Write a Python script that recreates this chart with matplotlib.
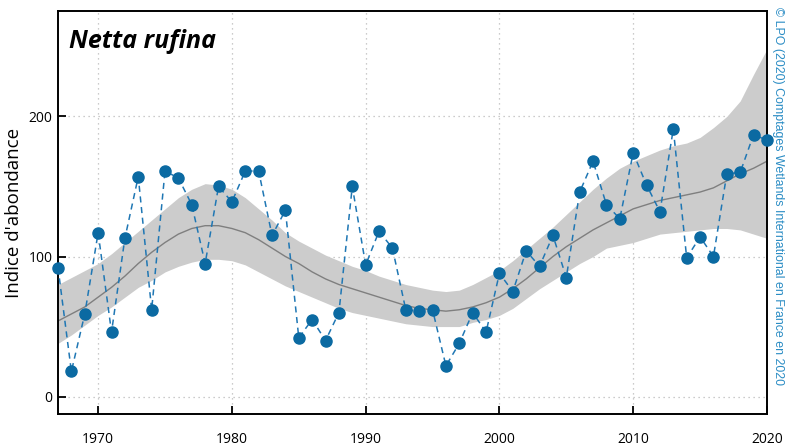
"""
Abundance index of Netta rufina (Wetlands International counts, France).
"""
import matplotlib
matplotlib.use("Agg")
import matplotlib.pyplot as plt

plt.rcParams["font.family"] = ["Open Sans", "DejaVu Sans"]

years = list(range(1967, 2021))

index_obs = [92, 18, 59, 117, 46, 113, 157, 62, 161, 156,
             137, 95, 150, 139, 161, 161, 115, 133, 42, 55,
             40, 60, 150, 94, 118, 106, 62, 61, 62, 22,
             38, 60, 46, 88, 75, 104, 93, 115, 85, 146,
             168, 137, 127, 174, 151, 132, 191, 99, 114, 100,
             159, 160, 187, 183]

trend = [54, 59, 64, 71, 78, 86, 95, 103, 110, 116,
         120, 122, 122, 120, 117, 112, 106, 100, 95, 89,
         84, 80, 77, 74, 71, 68, 65, 63, 62, 61,
         62, 64, 67, 71, 77, 84, 92, 100, 107, 113,
         119, 124, 129, 134, 137, 140, 142, 144, 146, 149,
         154, 159, 163, 168]

upper = [80, 85, 90, 95, 102, 110, 118, 126, 134, 142,
         148, 152, 151, 148, 142, 134, 126, 117, 111, 106,
         101, 97, 93, 90, 86, 83, 80, 78, 76, 75,
         76, 80, 85, 90, 97, 105, 113, 121, 130, 139,
         148, 156, 163, 168, 172, 176, 179, 181, 185, 192,
         200, 211, 230, 248]

lower = [38, 44, 51, 58, 64, 71, 78, 83, 89, 93,
         96, 98, 98, 97, 94, 89, 84, 79, 75, 71,
         67, 63, 60, 58, 56, 54, 52, 51, 50, 50,
         50, 53, 55, 58, 63, 70, 77, 83, 89, 95,
         100, 106, 108, 110, 113, 116, 117, 118, 119, 120,
         120, 119, 116, 113]

x_ticks = [1970, 1980, 1990, 2000, 2010, 2020]
y_ticks = [0, 100, 200]

fig = plt.figure(figsize=(7.85, 4.47), dpi=100)
ax = fig.add_axes([0.0739, 0.0732, 0.9031, 0.9015])

ax.fill_between(years, lower, upper, color="#cccccc", lw=0, zorder=1)
ax.plot(years, trend, color="#7f7f7f", lw=1.0, zorder=2)
ax.plot(years, index_obs, color="#1f77b4", lw=1.1, ls=(0, (4, 3)), zorder=3)
ax.plot(years, index_obs, "o", color="#0b6aa2", ms=8, zorder=4, clip_on=False)

ax.set_xlim(1967, 2020)
ax.set_ylim(-12.6, 275)
ax.set_xticks(x_ticks)
ax.set_yticks(y_ticks)
ax.grid(True, color="#bbbbbb", ls=(0, (1, 3)), lw=0.9)
ax.set_axisbelow(True)
ax.tick_params(axis="both", direction="in", length=6, width=1.3,
               labelsize=10, colors="black")
ax.tick_params(axis="x", pad=13)
ax.tick_params(axis="y", pad=4)
for s in ax.spines.values():
    s.set_linewidth(1.4)

ax.set_ylabel("Indice d'abondance", fontsize=13.5, labelpad=4)
ax.text(0.015, 0.955, "Netta rufina", transform=ax.transAxes,
        fontsize=18, fontweight="bold", fontstyle="italic",
        ha="left", va="top")
fig.text(0.991, 0.985, "© LPO (2020) Comptages Wetlands International en France en 2020",
         rotation=-90, ha="center", va="top", color="#2a8cc4", fontsize=8.9,
         family=["Liberation Sans", "DejaVu Sans"])

fig.savefig("out.png", dpi=100)
